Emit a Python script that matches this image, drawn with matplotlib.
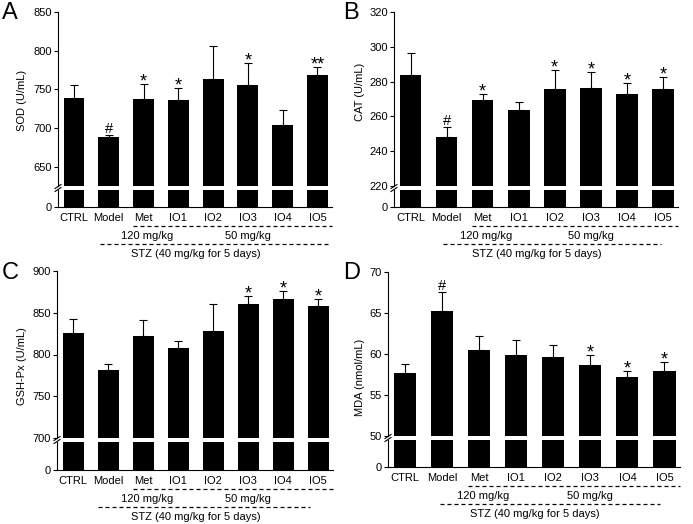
import matplotlib
matplotlib.use("Agg")
import matplotlib.pyplot as plt
from matplotlib.transforms import blended_transform_factory

plt.rcParams['font.family'] = ['Liberation Sans', 'DejaVu Sans']
plt.rcParams['font.size'] = 8

groups = ['CTRL', 'Model', 'Met', 'IO1', 'IO2', 'IO3', 'IO4', 'IO5']

sod_mean = [739, 688, 737, 736, 763, 756, 704, 769]
sod_err = [17, 3, 20, 16, 43, 28, 19, 10]
sod_marks = ['', '#', '*', '*', '', '*', '', '**']

cat_mean = [283.7, 248.3, 269.2, 263.7, 275.8, 276.5, 272.7, 275.8]
cat_err = [12.5, 5.4, 3.5, 4.8, 11.1, 8.9, 6.3, 7.1]
cat_marks = ['', '#', '*', '', '*', '*', '*', '*']

gsh_mean = [826, 781, 822, 807.5, 828, 860, 866.5, 858.5]
gsh_err = [17, 8, 19, 8.5, 32, 10, 10, 8.5]
gsh_marks = ['', '', '', '', '', '*', '*', '*']

mda_mean = [57.7, 65.3, 60.5, 59.9, 59.6, 58.7, 57.25, 57.95]
mda_err = [1.1, 2.2, 1.75, 1.8, 1.55, 1.15, 0.65, 1.1]
mda_marks = ['', '#', '', '', '', '*', '*', '*']

W, H = 693, 524
fig = plt.figure(figsize=(W / 100, H / 100), dpi=100)


def fx(px):
    return px / W


def fy(px):
    return 1 - px / H


def panel(letter, mean, err, marks, ylabel, ylim, yticks, box, lab_xy, letter_xy,
          stz_end, x_low=0.72):
    x0, x1, ytop, ybrk, ylow0, ybot = box
    xs = list(range(len(groups)))
    xlim = (-0.46, 7.42)
    # upper part
    ax = fig.add_axes([fx(x0), fy(ybrk), fx(x1) - fx(x0), (ybrk - ytop) / H])
    ax.bar(xs, mean, width=0.6, color='black')
    ax.errorbar(xs, mean, yerr=[[0] * len(err), err], fmt='none', ecolor='black',
                elinewidth=0.8, capsize=2.8, capthick=0.8)
    ax.set_ylim(*ylim)
    ax.set_xlim(*xlim)
    ax.set_yticks(yticks)
    for s in ['top', 'right', 'bottom']:
        ax.spines[s].set_visible(False)
    ax.spines['left'].set_linewidth(0.8)
    ax.tick_params(axis='y', length=3, width=0.8, pad=1.5, labelsize=8)
    ax.set_xticks([])
    for x, m, e, t in zip(xs, mean, err, marks):
        if t == '#':
            ax.annotate(t, (x, m + e), xytext=(0, 1.5), textcoords='offset points',
                        ha='center', va='baseline', fontsize=10.5)
        elif t:
            ax.annotate(t, (x, m + e), xytext=(0, -1.8), textcoords='offset points',
                        ha='center', va='baseline', fontsize=13)
    # lower part
    axl = fig.add_axes([fx(x0), fy(ybot), fx(x1) - fx(x0), (ybot - ylow0) / H])
    axl.bar(xs, [1] * len(xs), width=0.6, color='black')
    axl.set_ylim(0, 1)
    axl.set_xlim(*xlim)
    axl.set_yticks([0])
    for s in ['top', 'right']:
        axl.spines[s].set_visible(False)
    axl.spines['left'].set_linewidth(0.8)
    axl.spines['bottom'].set_linewidth(0.8)
    axl.tick_params(axis='y', length=3, width=0.8, pad=1.5, labelsize=8)
    axl.set_xticks(xs)
    axl.set_xticklabels(groups)
    axl.tick_params(axis='x', length=0, pad=4.5, labelsize=8)
    # break marks
    for dy in (ybrk + 0.5, ylow0 - 0.5):
        fig.add_artist(plt.Line2D([fx(x0 - 3), fx(x0 + 3)], [fy(dy + 2), fy(dy - 2)],
                                  color='black', lw=0.8, transform=fig.transFigure))
    # dose annotations
    tr = blended_transform_factory(axl.transData, fig.transFigure)
    fig.add_artist(plt.Line2D([1.7, xlim[1]], [fy(ybot + 19)] * 2, color='black', lw=0.9,
                              dashes=(3.2, 2.4), transform=tr))
    fig.add_artist(plt.Line2D([x_low, stz_end], [fy(ybot + 37)] * 2, color='black', lw=0.9,
                              dashes=(3.2, 2.4), transform=tr))
    fig.text(2.1, fy(ybot + 29), '120 mg/kg', transform=tr, ha='center', va='center', fontsize=8)
    fig.text(5.0, fy(ybot + 29), '50 mg/kg', transform=tr, ha='center', va='center', fontsize=8)
    fig.text(3.5, fy(ybot + 47), 'STZ (40 mg/kg for 5 days)', transform=tr,
             ha='center', va='center', fontsize=8)
    fig.text(fx(lab_xy[0]), fy(lab_xy[1]), ylabel, rotation=90, ha='center', va='center',
             fontsize=8)
    fig.text(fx(letter_xy[0]), fy(letter_xy[1]), letter, ha='left', va='center', fontsize=17)


panel('A', sod_mean, sod_err, sod_marks, 'SOD (U/mL)', (625, 850), [650, 700, 750, 800, 850],
      (58, 332, 12, 186, 190, 207), (22, 100), (2, 13), 7.31, 0.74)
panel('B', cat_mean, cat_err, cat_marks, 'CAT (U/mL)', (220, 320), [220, 240, 260, 280, 300, 320],
      (394, 678, 12, 186, 190, 207), (360, 92), (343, 13), 6.94, 0.9)
panel('C', gsh_mean, gsh_err, gsh_marks, 'GSH-Px (U/mL)', (700, 900), [700, 750, 800, 850, 900],
      (57, 333, 271, 438, 442, 470), (22, 366), (2, 273), 6.77, 0.71)
panel('D', mda_mean, mda_err, mda_marks, 'MDA (nmol/mL)', (50, 70), [50, 55, 60, 65, 70],
      (388, 680, 272, 436, 440, 467), (360, 377), (343, 273), 6.87, 0.94)

fig.savefig('out.png', dpi=100)
